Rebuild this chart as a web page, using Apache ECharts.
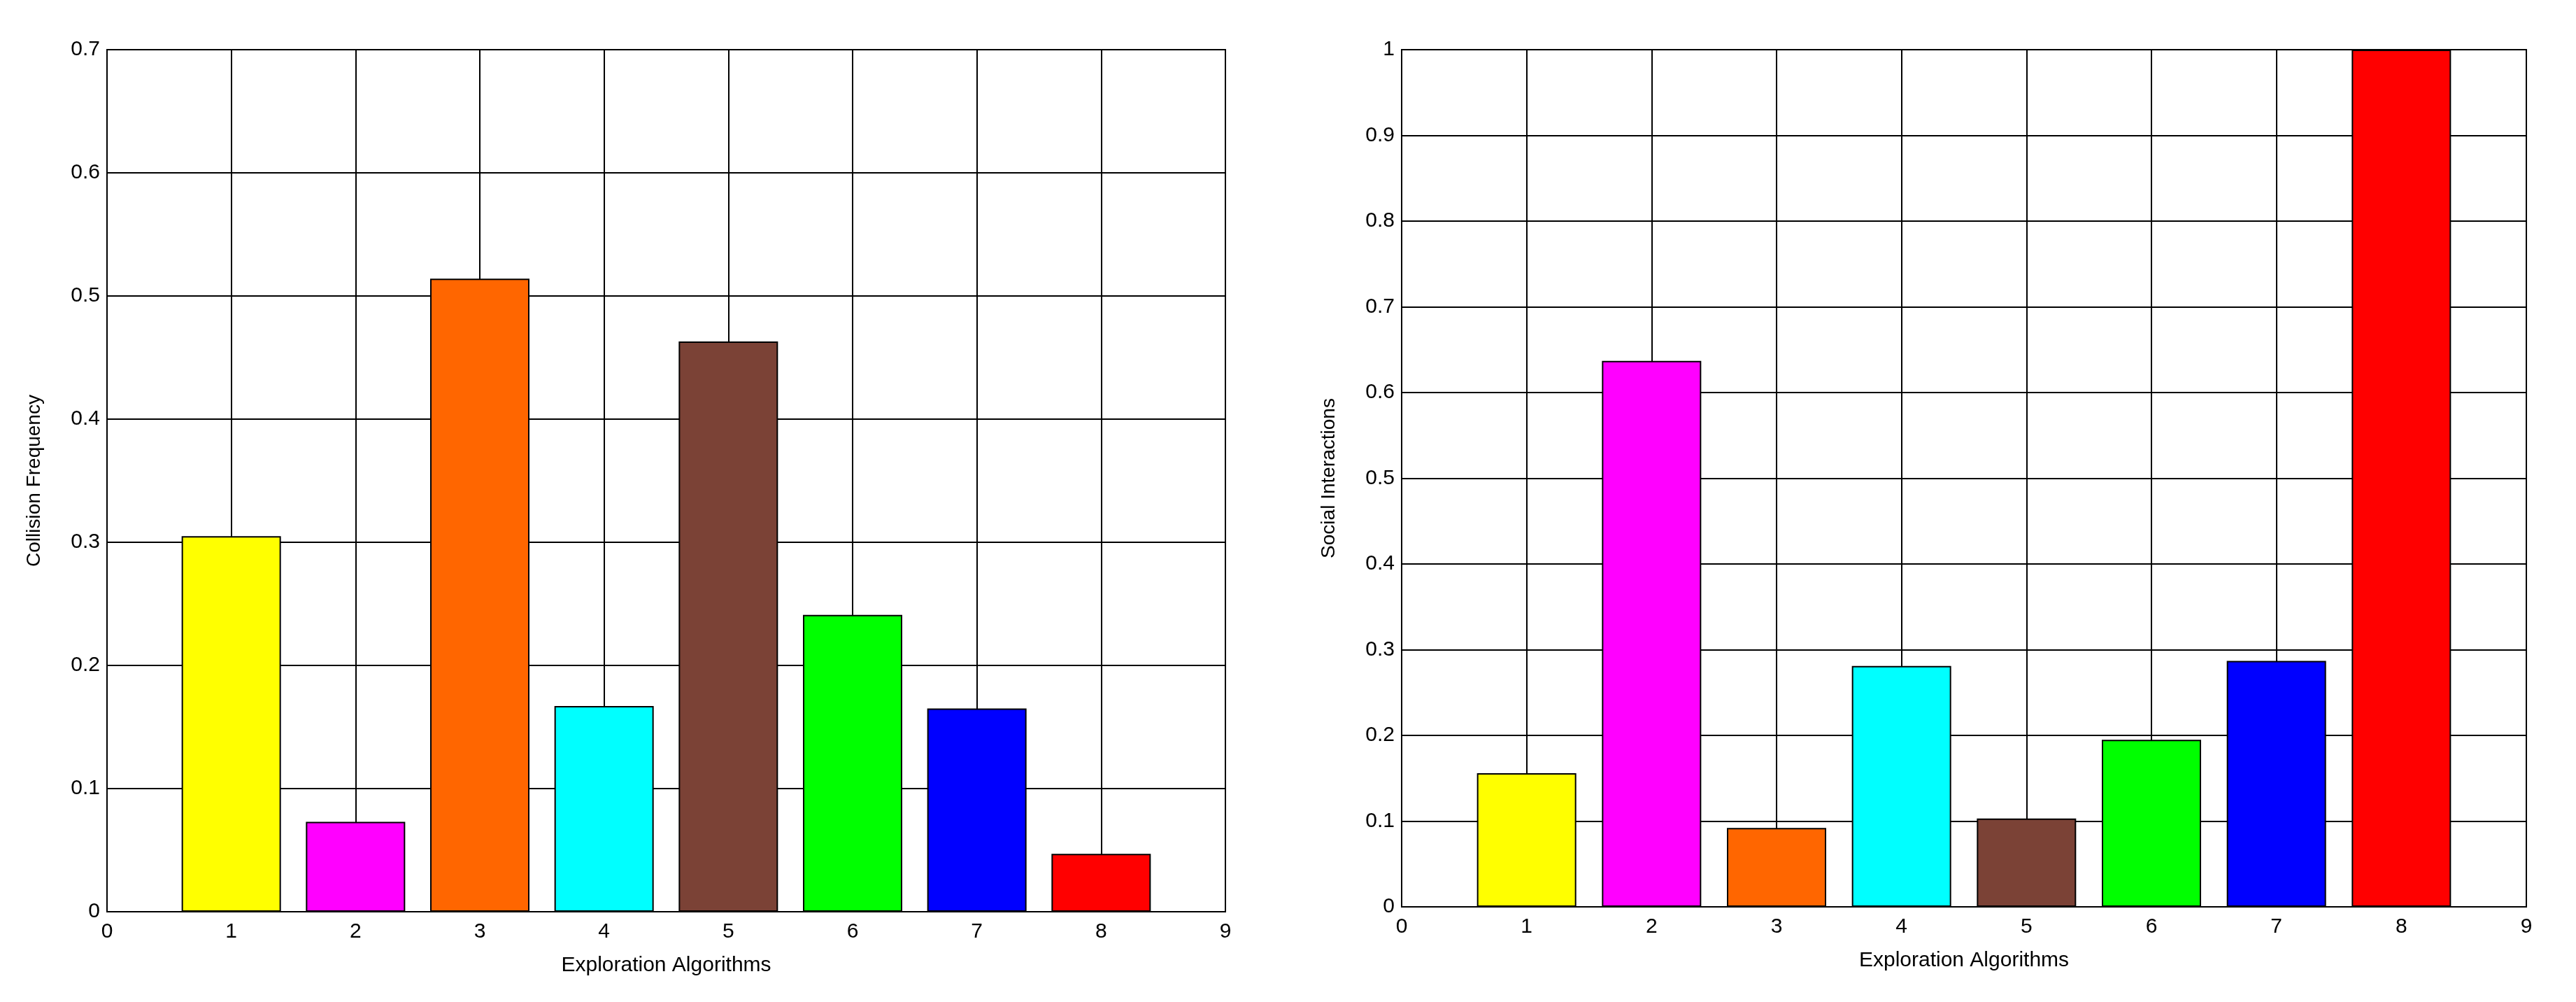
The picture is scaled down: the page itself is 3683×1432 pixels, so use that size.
<!DOCTYPE html>
<html><head><meta charset="utf-8">
<script src="https://cdn.jsdelivr.net/npm/echarts@6/dist/echarts.min.js"></script>
<style>html,body{margin:0;padding:0;background:#fff}#c{width:3683px;height:1432px}</style>
</head><body><div id="c"></div>
<script>
const algorithms = [1,2,3,4,5,6,7,8];
const collisionFrequency = [0.305,0.073,0.514,0.167,0.463,0.241,0.165,0.047];
const socialInteractions = [0.156,0.637,0.092,0.281,0.103,0.195,0.287,1.0];
const barColors = ['#ffff00','#ff00ff','#ff6600','#00ffff','#7b4236','#00ff00','#0000ff','#ff0000'];
const xTicks = [0,9];
const leftYMax = 0.7, rightYMax = 1;

const chart = echarts.init(document.getElementById('c'));
const font = 'Liberation Sans';
function xAxis(gi){return {gridIndex:gi,type:'value',min:xTicks[0],max:xTicks[1],interval:1,
  name:'Exploration Algorithms',nameLocation:'middle',nameGap:62,
  nameTextStyle:{fontFamily:font,fontSize:30,color:'#000'},
  axisLine:{show:true,lineStyle:{color:'#000',width:2}},
  axisTick:{show:true,inside:true,length:8,lineStyle:{color:'#000'}},
  axisLabel:{fontFamily:font,fontSize:30,color:'#000',margin:14},
  splitLine:{show:true,lineStyle:{color:'#000',width:2}}};}
function yAxis(gi,max,name){return {gridIndex:gi,type:'value',min:0,max:max,interval:0.1,
  name:name,nameLocation:'middle',nameGap:90,
  nameTextStyle:{fontFamily:font,fontSize:28,color:'#000'},
  axisLine:{show:true,lineStyle:{color:'#000',width:2}},
  axisTick:{show:true,inside:true,length:8,lineStyle:{color:'#000'}},
  axisLabel:{fontFamily:font,fontSize:30,color:'#000',margin:10,
    formatter:v=>String(Math.round(v*10)/10)},
  splitLine:{show:true,lineStyle:{color:'#000',width:2}}};}
function series(gi,vals){return {type:'bar',xAxisIndex:gi,yAxisIndex:gi,barWidth:142,
  data:algorithms.map((a,i)=>({value:[a,vals[i]],itemStyle:{color:barColors[i]}})),
  itemStyle:{borderColor:'#000',borderWidth:2},z:3};}
chart.setOption({
  animation:false,backgroundColor:'#fff',
  grid:[{left:153,top:71,width:1599,height:1232,show:true,borderColor:'#000',borderWidth:2},
        {left:2004,top:71,width:1608,height:1225,show:true,borderColor:'#000',borderWidth:2}],
  xAxis:[xAxis(0),xAxis(1)],
  yAxis:[yAxis(0,leftYMax,'Collision Frequency'),yAxis(1,rightYMax,'Social Interactions')],
  series:[series(0,collisionFrequency),series(1,socialInteractions)]
});
</script></body></html>
